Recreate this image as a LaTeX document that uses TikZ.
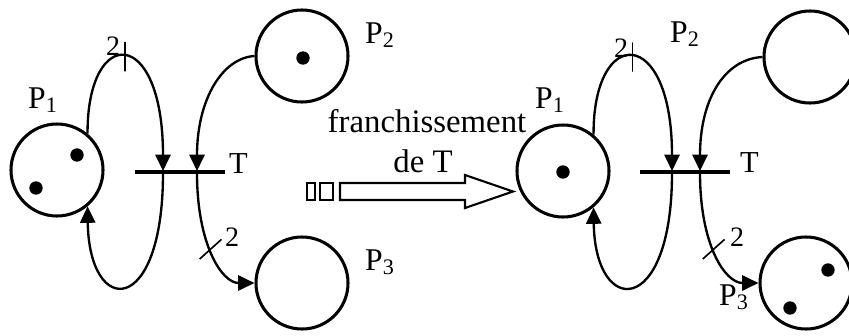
\documentclass[tikz,border=0pt]{standalone}
\usepackage{fontspec}
\setmainfont{Liberation Serif}
\usetikzlibrary{arrows.meta}

\tikzset{
  place/.style={circle, draw, line width=2.6pt, minimum size=2.76cm, inner sep=0pt},
  tok/.style={circle, fill, inner sep=0pt, minimum size=0.4cm},
  trans/.style={rectangle, fill, inner sep=0pt, minimum width=2.7cm, minimum height=2.6pt},
  arc/.style={line width=2pt, -{Triangle[length=14pt,width=13pt]}},
  tick/.style={draw, line width=1.4pt, inner sep=0pt, minimum width=0pt, minimum height=0.88cm},
  plabel/.style={anchor=base west, inner sep=0pt, font=\fontsize{27}{29}\selectfont},
  tlabel/.style={anchor=base west, inner sep=0pt, font=\fontsize{26}{28}\selectfont},
  weight/.style={anchor=base west, inner sep=0pt, font=\fontsize{24}{26}\selectfont},
  bigtext/.style={anchor=base, inner sep=0pt, font=\fontsize{28}{30}\selectfont}
}

\begin{document}
\begin{tikzpicture}[x=0.03cm, y=-0.03cm]
\useasboundingbox (0,0) rectangle (849,335);

% Before firing
\node[place] (P1a) at (57,170) {};
\node[place] (P2a) at (302,56) {};
\node[place] (P3a) at (302,283) {};
\node[trans] (Ta) at (180,172) {};
\coordinate (inA) at (163,171);
\coordinate (outA) at (163,173);
\coordinate (inB) at (197,171);
\coordinate (outB) at (197,173);

\node[tok] (k1) at (77,155) {};
\node[tok] (k2) at (36,188) {};
\node[tok] (k3) at (303,58) {};

\draw[arc] (P1a.50) .. controls (87,25) and (163,25) .. (inA)
    node[tick, pos=0.5] (tk1) {};
\draw[arc] (outA) .. controls (163,318) and (89,318) .. (P1a.-50);
\draw[arc] (P2a.180) .. controls (222,58) and (197,100) .. (inB);
\draw[arc] (outB) .. controls (197,245) and (222,283) .. (P3a.180)
    node[tick, pos=0.45, rotate=-48] (tk2) {};

\node[plabel] (l1) at (28,108) {P\textsubscript{1}};
\node[plabel] (l2) at (365,43) {P\textsubscript{2}};
\node[plabel] (l3) at (365,270) {P\textsubscript{3}};
\node[tlabel] (lt) at (229,173) {T};
\node[weight] (w1) at (106,55) {2};
\node[weight] (w2) at (225,246) {2};

% Firing of T
\node[bigtext] (f1) at (427,132) {franchissement};
\node[bigtext] (f2) at (423,172) {de T};
\draw[line width=1.8pt] (340,183) -- (465,183) -- (465,175) -- (513,191.5)
    -- (465,208) -- (465,200) -- (340,200) -- cycle;
\draw[line width=1.8pt] (307,183) rectangle (315,200);
\draw[line width=1.8pt] (320,183) rectangle (333,200);

% After firing
\node[place] (P1b) at (563,171) {};
\node[place] (P2b) at (810,57) {};
\node[place] (P3b) at (806,283) {};
\node[trans] (Tb) at (685,172) {};
\coordinate (inC) at (672,171);
\coordinate (outC) at (672,173);
\coordinate (inD) at (700,171);
\coordinate (outD) at (700,173);

\node[tok] (k4) at (563,172) {};
\node[tok] (k5) at (828,270) {};
\node[tok] (k6) at (790,308) {};

\draw[arc] (P1b.50) .. controls (593,25) and (672,25) .. (inC)
    node[tick, pos=0.5] (tk3) {};
\draw[arc] (outC) .. controls (672,318) and (595,318) .. (P1b.-50);
\draw[arc] (P2b.180) .. controls (724,59) and (700,100) .. (inD);
\draw[arc] (outD) .. controls (700,245) and (725,283) .. (P3b.180)
    node[tick, pos=0.45, rotate=-48] (tk4) {};

\node[plabel] (l4) at (535,108) {P\textsubscript{1}};
\node[plabel] (l5) at (670,42) {P\textsubscript{2}};
\node[plabel] (l6) at (719,305) {P\textsubscript{3}};
\node[tlabel] (lt2) at (740,172) {T};
\node[weight] (w3) at (614,57) {2};
\node[weight] (w4) at (730,246) {2};

\end{tikzpicture}
\end{document}
